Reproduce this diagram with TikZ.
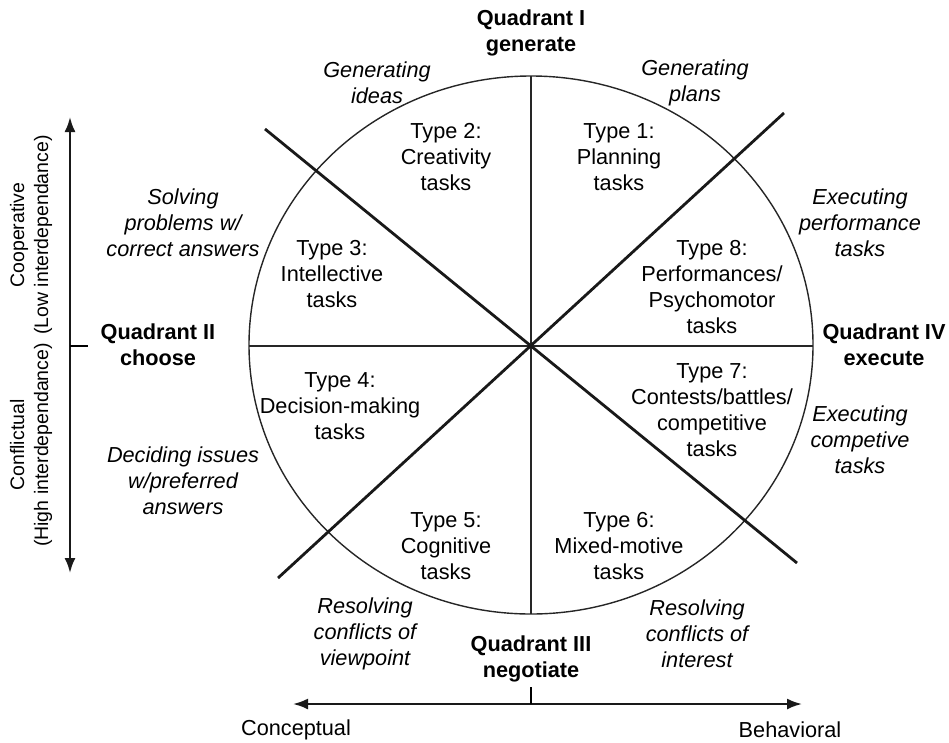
\documentclass[tikz,border=0pt]{standalone}
\usepackage{fontspec}
\setmainfont{Liberation Sans}
\usetikzlibrary{arrows.meta}
\tikzset{
  txt/.style={align=center, inner sep=0pt, font=\fontsize{21.7}{26}\selectfont},
  itxt/.style={txt, font=\fontsize{21.7}{26}\selectfont\itshape},
  btxt/.style={txt, font=\fontsize{21.7}{26}\selectfont\bfseries},
  vtxt/.style={align=center, inner sep=0pt, rotate=90, font=\fontsize{19.5}{24}\selectfont},
  thin line/.style={line width=1.4pt, draw=black!85},
  thick line/.style={line width=2.8pt, draw=black!90},
  axis/.style={line width=2.2pt, draw=black!90, {Latex[length=15pt,width=11pt]}-{Latex[length=15pt,width=11pt]}},
}
\begin{document}
\begin{tikzpicture}[x=1pt,y=-1pt]
\useasboundingbox (0,0) rectangle (949,742);
% geometry
\coordinate (C) at (531,346);
\coordinate (top) at (531,76);
\coordinate (bot) at (531,614);
\coordinate (lft) at (249,346);
\coordinate (rgt) at (813,346);
\coordinate (dA1) at (265,129);
\coordinate (dA2) at (797,563);
\coordinate (dB1) at (278,578);
\coordinate (dB2) at (784,113);
\draw[thin line] (531,345) ellipse [x radius=282, y radius=269];
\draw[thin line] (top) -- (bot);
\draw[thin line] (lft) -- (rgt);
\draw[thick line] (dA1) -- (dA2);
\draw[thick line] (dB1) -- (dB2);
% axes
\coordinate (vT) at (70,117);
\coordinate (vB) at (70,573);
\coordinate (vM) at (70,346);
\coordinate (vMt) at (88,346);
\draw[axis] (vT) -- (vB);
\draw[line width=1.6pt] (vM) -- (vMt);
\coordinate (hL) at (293,704);
\coordinate (hR) at (802,704);
\coordinate (hM) at (531,704);
\coordinate (hMt) at (531,687);
\draw[axis] (hL) -- (hR);
\draw[line width=1.6pt] (hM) -- (hMt);
% texts
\node[btxt] (q1) at (531,33) {Quadrant I\\generate};
\node[itxt] (gi) at (377,83) {Generating\\ideas};
\node[itxt] (gp) at (695,83) {Generating\\plans};
\node[txt] (t2) at (446,157) {Type 2:\\Creativity\\tasks};
\node[txt] (t1) at (619,157) {Type 1:\\Planning\\tasks};
\node[itxt] (sp) at (183,223) {Solving\\problems w/\\correct answers};
\node[itxt] (ep) at (860,223) {Executing\\performance\\tasks};
\node[txt] (t3) at (332,274) {Type 3:\\Intellective\\tasks};
\node[txt] (t8) at (712,287) {Type 8:\\Performances/\\Psychomotor\\tasks};
\node[btxt] (q2) at (158,345) {Quadrant II\\choose};
\node[btxt] (q4) at (884,345) {Quadrant IV\\execute};
\node[txt] (t4) at (340,406) {Type 4:\\Decision-making\\tasks};
\node[txt] (t7) at (712,410) {Type 7:\\Contests/battles/\\competitive\\tasks};
\node[itxt] (ec) at (860,440) {Executing\\competive\\tasks};
\node[itxt] (di) at (183,481) {Deciding issues\\w/preferred\\answers};
\node[txt] (t5) at (446,546) {Type 5:\\Cognitive\\tasks};
\node[txt] (t6) at (619,546) {Type 6:\\Mixed-motive\\tasks};
\node[itxt] (rv) at (365,634) {Resolving\\conflicts of\\viewpoint};
\node[itxt] (ri) at (697,634) {Resolving\\conflicts of\\interest};
\node[btxt] (q3) at (531,659) {Quadrant III\\negotiate};
\node[txt] (con) at (296,730) {Conceptual};
\node[txt] (beh) at (790,730) {Behavioral};
\node[vtxt] (coop) at (31,235) {Cooperative\\(Low interdependance)};
\node[vtxt] (conf) at (31,445) {Conflictual\\(High interdependance)};
\end{tikzpicture}
\end{document}
